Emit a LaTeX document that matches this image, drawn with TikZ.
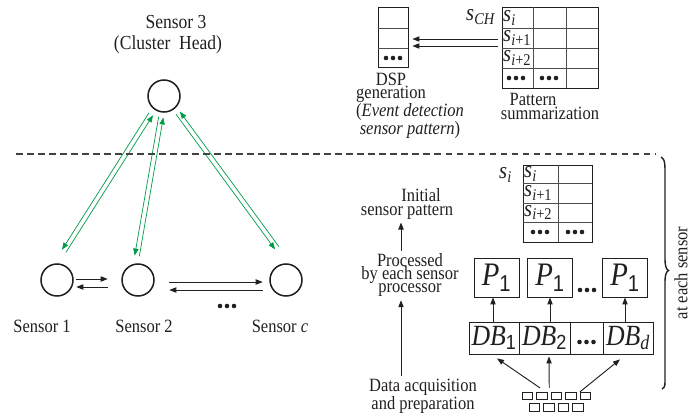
\documentclass[tikz,border=0pt]{standalone}
\usepackage{fontspec}
\setmainfont{Liberation Serif}[FakeStretch=0.88]
\newfontfamily\digsf{Liberation Sans}[FakeStretch=0.88]
\usetikzlibrary{arrows.meta,calc}
\definecolor{ink}{RGB}{35,31,32}
\definecolor{linkgreen}{RGB}{0,155,72}
\newcommand\pxu{0.03cm}
\newcommand\labfont{\fontsize{16}{11.5}\selectfont}
\newcommand\headfont{\fontsize{17}{18.7}\selectfont}
\newcommand\cellfont{\fontsize{20}{20}\selectfont}
\newcommand\pfont{\fontsize{28}{28}\selectfont}
\newcommand\dbfont{\fontsize{25}{25}\selectfont}
\newcommand\sv[2]{\textit{#1}\textsubscript{#2}}
\begin{document}
\begin{tikzpicture}[x=0.03cm,y=-0.03cm,
  lab/.style={text=ink,inner sep=0pt,font=\labfont,align=center},
  sensor/.style={circle,draw=ink,line width=1.3pt,minimum size=32*\pxu,inner sep=0pt},
  frame/.style={draw=ink,line width=0.7pt,inner sep=0pt},
  grid/.style={draw=ink!80,line width=0.6pt},
  cellt/.style={text=ink,inner sep=0pt,font=\cellfont,anchor=west},
  blk/.style={draw=ink,line width=0.8pt,-{Triangle[length=6pt,width=4.5pt]}},
  grn/.style={draw=linkgreen,line width=0.6pt,-{Triangle[length=6pt,width=4.5pt]}},
  sq/.style={draw=ink,line width=0.6pt,minimum width=10.5*\pxu,minimum height=7.5*\pxu,inner sep=0pt},
  threedots/.pic={\foreach \k in {-7,0,7} \fill[ink] (\k,0) circle[radius=2.3];}]
\useasboundingbox (0,0) rectangle (697,414);

% ---------- cluster: head and member sensors ----------
\node[lab,font=\headfont] (h1) at (176,22) {Sensor 3};
\node[lab,font=\headfont] (h2) at (168,45) {(Cluster~ Head)};
\node[sensor] (ch) at (164,96) {};
\node[sensor] (s1) at (57,280) {};
\node[sensor] (s2) at (138,280) {};
\node[sensor] (sc) at (286,280) {};
\node[lab] (l1) at (42,326) {Sensor 1};
\node[lab] (l2) at (144,326) {Sensor 2};
\node[lab] (lc) at (280,326) {Sensor \textit{c}};
\pic at (227,306) {threedots};

% links between neighbouring sensors
\draw[blk] ($(s1.east)+(2.5,-1)$) -- ($(s2.west)+(-13.5,-1)$);
\draw[blk] ($(s2.west)+(-13.5,7)$) -- ($(s1.east)+(2.5,7)$);
\draw[blk] ($(s2.east)+(14.5,2)$) -- ($(sc.west)+(-6.5,2)$);
\draw[blk] ($(sc.west)+(-6.5,10)$) -- ($(s2.east)+(14.5,10)$);

% two-way links to the cluster head
\coordinate (gAt) at ($(ch)+(-13,18)$);  \coordinate (gAb) at ($(s1)+(7,-29)$);
\coordinate (gBt) at ($(ch)+(-3,21)$);   \coordinate (gBb) at ($(s2)+(-1,-24)$);
\coordinate (gCt) at ($(ch)+(14,17)$);   \coordinate (gCb) at ($(sc)+(-9,-32)$);
\foreach \p in {A,B,C}{
  \draw[grn] ($(g\p b)!2pt!-90:(g\p t)$) -- ($(g\p t)!2pt!90:(g\p b)$);
  \draw[grn] ($(g\p t)!2pt!-90:(g\p b)$) -- ($(g\p b)!2pt!90:(g\p t)$);
}

% separator
\draw[draw=ink!85,line width=1pt,dash pattern=on 5.7pt off 3.7pt] (16,154) -- (655,154);

% ---------- cluster-head processing ----------
\node[frame,minimum width=30*\pxu,minimum height=60*\pxu] (dsp) at (393,37) {};
\draw[grid] (378,28) -- (408,28) (378,48) -- (408,48);
\pic at (393,58) {threedots};
\node[lab] (dspl) at (391,88) {DSP\\generation};
\node[lab,font=\fontsize{16}{12}\selectfont] (evl) at (410,121) {(\textit{Event detection}\\\textit{sensor pattern})};

\node[frame,minimum width=96*\pxu,minimum height=81*\pxu] (pat) at (550,47.5) {};
\draw[grid] (533,7) -- (533,88) (566,7) -- (566,88)
            (502,28) -- (598,28) (502,48) -- (598,48) (502,68) -- (598,68);
\node[cellt] (pc1) at (503,18) {\sv{s}{\textit{i}}};
\node[cellt] (pc2) at (503,38) {\sv{s}{\textit{i}+1}};
\node[cellt] (pc3) at (503,58) {\sv{s}{\textit{i}+2}};
\pic at (516,78) {threedots};
\pic at (549,78) {threedots};
\node[cellt] (sch) at (466,17) {\sv{s}{\textit{CH}}};
\node[lab] (pat1) at (533,99) {Pattern};
\node[lab] (pat2) at (550,113) {summarization};

\draw[blk] ($(pat.west)+(-4,-8.5)$) -- ($(dsp.east)+(4,2)$);
\draw[blk] ($(pat.west)+(-4,-1.5)$) -- ($(dsp.east)+(4,9)$);

% ---------- per-sensor processing ----------
\node[frame,minimum width=69*\pxu,minimum height=77*\pxu] (sit) at (557.5,203.5) {};
\draw[grid] (558,165) -- (558,242)
            (523,183) -- (592,183) (523,203) -- (592,203) (523,222) -- (592,222);
\node[cellt] (sc1) at (524,174) {\sv{s}{\textit{i}}};
\node[cellt] (sc2) at (524,193) {\sv{s}{\textit{i}+1}};
\node[cellt] (sc3) at (524,212.5) {\sv{s}{\textit{i}+2}};
\pic at (540,232) {threedots};
\pic at (575,232) {threedots};
\node[cellt] (sil) at (499,175) {\sv{s}{\textit{i}}};

\node[lab] (ini1) at (421,195) {Initial};
\node[lab] (ini2) at (407,212) {sensor pattern};
\node[lab] (proc) at (410,275) {Processed\\by each sensor\\processor};
\node[lab] (data) at (423,396) {Data acquisition\\and preparation};
\coordinate (ax) at (401,0);
\draw[blk] ($(proc.north -| ax)+(0,-2)$) -- ($(ini2.south -| ax)+(0,3)$);
\draw[blk] ($(data.north -| ax)+(0,-2)$) -- ($(proc.south -| ax)+(0,3)$);

\foreach \x/\n in {496.5/1,550/2,625/3}
  \node[frame,minimum width=45*\pxu,minimum height=39*\pxu,font=\pfont,text=ink] (p\n) at (\x,277.5)
    {\textit{P}\textsubscript{\digsf 1}};
\pic at (587,290) {threedots};

\node[frame,minimum width=50*\pxu,minimum height=32*\pxu,font=\dbfont,text=ink] (db1) at (494,338) {\textit{DB}\textsubscript{\digsf 1}};
\node[frame,minimum width=51*\pxu,minimum height=32*\pxu,font=\dbfont,text=ink] (db2) at (544.5,338) {\textit{DB}\textsubscript{\digsf 2}};
\node[frame,minimum width=33*\pxu,minimum height=32*\pxu] (dbx) at (586.5,338) {};
\pic at (586.5,342) {threedots};
\node[frame,minimum width=50*\pxu,minimum height=32*\pxu,font=\dbfont,text=ink] (dbd) at (628,338) {\textit{DB}\textsubscript{\textit{d}}};

\draw[blk] (db1.north -| 493,0) -- (p1.south -| 493,0);
\draw[blk] (db2.north -| p2.south) -- (p2.south);
\draw[blk] (dbd.north -| p3.south) -- (p3.south);

\foreach \k [count=\n] in {0,...,4} \node[sq] (q\n) at (527.5+14.5*\k,396) {};
\foreach \k [count=\n from 6] in {0,...,3} \node[sq] (q\n) at (534.5+14.5*\k,407.5) {};
\draw[blk] ($(q2.north)+(-2,-4)$) -- ($(db1.south)+(3,4)$);
\draw[blk] ($(q2.north)!0.5!(q3.north)+(0,-4)$) -- ($(db2.south)+(4.5,2)$);
\draw[blk] (q5.north west) -- ($(dbd.south)+(-8,5)$);

% scope brace
\draw[ink,line width=1.2pt] (661,157) .. controls (665.5,159) and (665,166) .. (665,178) -- (665,258)
  .. controls (665,266) and (666,269) .. (668.5,270.5)
  .. controls (666,272) and (665,275) .. (665,283) -- (665,376)
  .. controls (665,385) and (665.5,387) .. (662,389);
\node[lab,rotate=90] (each) at (681,273) {at each sensor};
\end{tikzpicture}
\end{document}
